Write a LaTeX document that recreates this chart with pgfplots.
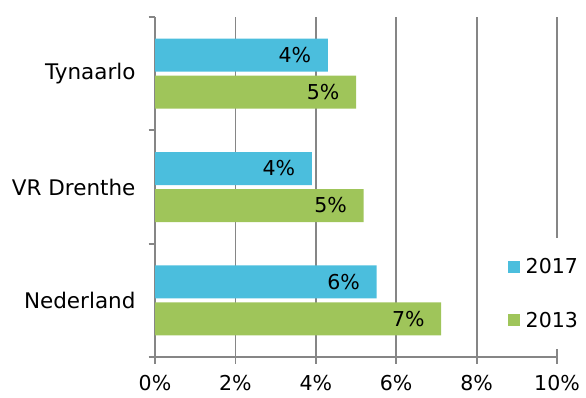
\documentclass[border=0pt]{standalone}
\usepackage{fontspec}
\setmainfont{DejaVu Sans}
\usepackage{pgfplots}
\pgfplotsset{compat=1.18}
\definecolor{cblue}{HTML}{4BBEDD}
\definecolor{cgreen}{HTML}{9FC55A}
\definecolor{cgrid}{HTML}{868686}
\begin{document}
\begin{tikzpicture}[font=\fontsize{20.5}{24}\selectfont]
\path[use as bounding box] (0,0) rectangle (586pt,397pt);
\begin{axis}[
  at={(155pt,40pt)}, anchor=south west,
  scale only axis, width=402pt, height=340pt,
  xmin=0, xmax=10, ymin=-0.5, ymax=2.5,
  xbar, bar width=33pt,
  axis lines=left,
  axis line style={-, cgrid, line width=1.8pt},
  /pgf/number format/assume math mode=true,
  xtick={0,2,4,6,8,10},
  xticklabel={\pgfmathprintnumber{\tick}\%},
  ytick={-0.5,0.5,1.5,2.5},
  yticklabels={},
  extra y ticks={0,1,2},
  extra y tick labels={Nederland,VR Drenthe,Tynaarlo},
  extra y tick style={major tick length=0pt, yticklabel style={xshift=-16pt, font=\fontsize{21.5}{24}\selectfont}},
  tick align=outside,
  major tick length=6.5pt,
  tick style={cgrid, line width=1.8pt},
  xmajorgrids,
  grid style={cgrid, line width=1.8pt},
  xticklabel style={yshift=-8pt},
  point meta=x,
  nodes near coords={\pgfmathprintnumber[fixed,precision=0]{\pgfplotspointmeta}\%},
  nodes near coords style={anchor=east, inner sep=0pt, xshift=-16.5pt, text=black},
  legend style={at={(rel axis cs:0.862,0.35)}, anchor=north west,
    draw=none, fill=white, inner xsep=6pt, inner ysep=20pt,
    nodes={inner sep=0pt}, column sep=6pt, row sep=37pt},
  legend cell align=left,
  legend image code/.code={\fill[#1] (0pt,-6pt) rectangle (12pt,6pt);},
]
\addplot[fill=cblue, draw=none, bar shift=18.5pt] coordinates {(4.3,2) (3.9,1) (5.51,0)};
\addplot[fill=cgreen, draw=none, bar shift=-18.5pt] coordinates {(5.0,2) (5.19,1) (7.12,0)};
\legend{2017,2013}
\end{axis}
\end{tikzpicture}
\end{document}
